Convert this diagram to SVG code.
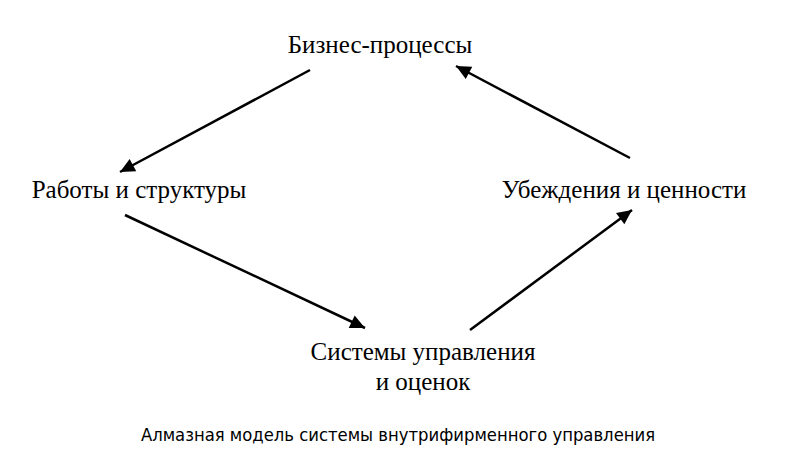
<svg xmlns="http://www.w3.org/2000/svg" width="800" height="468" viewBox="0 0 800 468">
<style>
.t{font-family:"Liberation Serif",serif;font-size:25px;fill:#000}
.c{font-family:"DejaVu Sans Condensed","DejaVu Sans",sans-serif;font-size:18.3px;fill:#000}
.l{stroke:#000;stroke-width:2.5;fill:none;marker-end:url(#a)}
</style>
<defs><marker id="a" viewBox="0 0 10 10" refX="9" refY="5" markerWidth="8" markerHeight="7" markerUnits="userSpaceOnUse" orient="auto" style="overflow:visible"><path d="M-12,-5 L9,5 L-12,15 z" fill="#000"/></marker></defs>
<rect width="800" height="468" fill="#fff"/>
<g id="n1"><text class="t" x="380" y="53" text-anchor="middle">Бизнес-процессы</text></g>
<g id="n2"><text class="t" x="139" y="198" text-anchor="middle">Работы и структуры</text></g>
<g id="n3"><text class="t" x="624" y="198" text-anchor="middle">Убеждения и ценности</text></g>
<g id="n4"><text class="t" x="423" y="360" text-anchor="middle">Системы управления</text><text class="t" x="423" y="390" text-anchor="middle">и оценок</text></g>
<g id="connectors">
<line class="l" x1="310" y1="70" x2="120" y2="172"/>
<line class="l" x1="125" y1="215" x2="365" y2="328"/>
<line class="l" x1="470" y1="330" x2="632" y2="210"/>
<line class="l" x1="630" y1="158" x2="456" y2="66"/>
</g>
<text class="c" x="398" y="441" text-anchor="middle">Алмазная модель системы внутрифирменного управления</text>
</svg>
